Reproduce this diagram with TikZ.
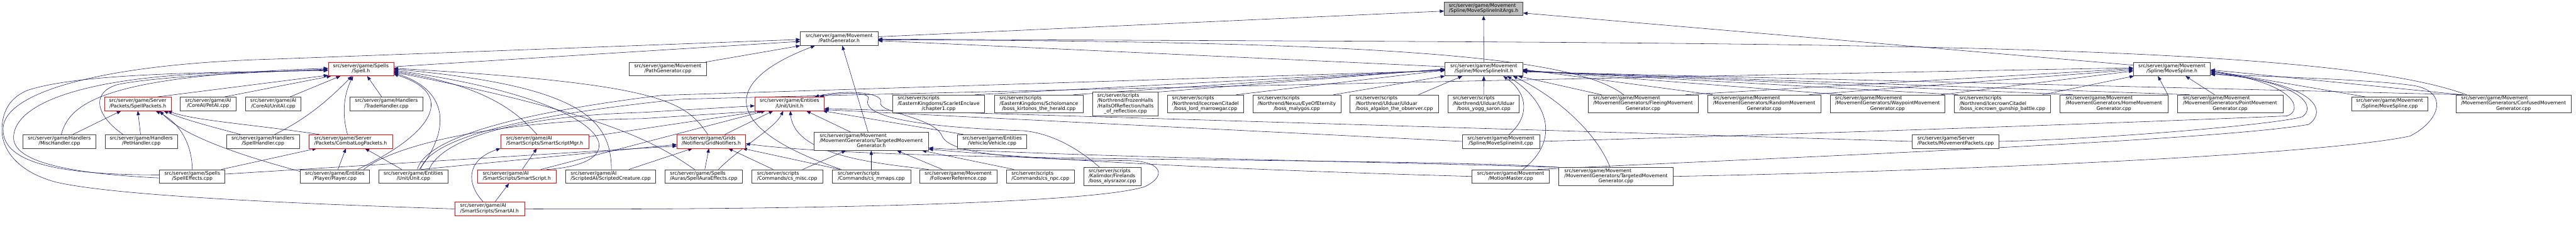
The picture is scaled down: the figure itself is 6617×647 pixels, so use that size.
\documentclass[tikz,border=0pt]{standalone}
\usepackage{fontspec}
\setmainfont{DejaVu Sans}
\usetikzlibrary{arrows.meta}
\definecolor{edgeblue}{RGB}{25,25,112}
\definecolor{boxgray}{RGB}{64,64,64}
\definecolor{hlred}{RGB}{255,0,0}
\definecolor{tgtgray}{RGB}{191,191,191}
\newcommand{\Ctwo}[2]{\begin{tabular}{@{}c@{}}#1\\#2\end{tabular}}
\newcommand{\Ltwo}[2]{\begin{tabular}{@{}l@{}}#1\\#2\end{tabular}}
\newcommand{\LLC}[3]{\begin{tabular}{@{}l@{}}#1\\#2\\\multicolumn{1}{@{}c@{}}{#3}\end{tabular}}
\newcommand{\LLLC}[4]{\begin{tabular}{@{}l@{}}#1\\#2\\#3\\\multicolumn{1}{@{}c@{}}{#4}\end{tabular}}
\pgfdeclarelayer{bg}
\pgfsetlayers{bg,main}
\begin{document}
\begin{tikzpicture}[x=1pt,y=-1pt,
  fn/.style={rectangle,draw=boxgray,line width=1pt,fill=white,inner sep=0pt,font=\fontsize{12.5pt}{12.6pt}\selectfont},
  hl/.style={fn,draw=hlred},
  tgt/.style={fn,fill=tgtgray},
  r2/.style={minimum height=35pt},
  r3/.style={minimum height=46pt},
  r4/.style={minimum height=60pt},
  wd/.style={minimum width=#1pt},
  inc/.style={draw=edgeblue,line width=0.9pt,-{Triangle[length=11pt,width=8.5pt]}}]
\useasboundingbox (0,0) rectangle (6617,647);
% ---------------- nodes ----------------
\node[tgt,r2,wd=202] (args) at (3811,22.5) {\Ltwo{src/server/game/Movement}{/Spline/MoveSplineInitArgs.h}};
\node[fn,r2,wd=199] (pathh) at (2155.5,99.5) {\Ctwo{src/server/game/Movement}{/PathGenerator.h}};
\node[hl,r2,wd=168] (spellh) at (927,177.5) {\Ctwo{src/server/game/Spells}{/Spell.h}};
\node[fn,r2,wd=199] (pathcpp) at (1715.5,177.5) {\Ctwo{src/server/game/Movement}{/PathGenerator.cpp}};
\node[fn,r2,wd=199] (msih) at (3811.5,177.5) {\Ctwo{src/server/game/Movement}{/Spline/MoveSplineInit.h}};
\node[fn,r2,wd=198] (msh) at (5579,177.5) {\Ctwo{src/server/game/Movement}{/Spline/MoveSpline.h}};
% row D
\node[hl,r2,wd=172] (spellpk) at (354,267) {\Ctwo{src/server/game/Server}{/Packets/SpellPackets.h}};
\node[fn,r2,wd=143] (petai) at (534.5,267) {\Ctwo{src/server/game/AI}{/CoreAI/PetAI.cpp}};
\node[fn,r2,wd=142] (unitai) at (702,267) {\Ctwo{src/server/game/AI}{/CoreAI/UnitAI.cpp}};
\node[fn,r2,wd=187] (trade) at (992.5,267) {\Ctwo{src/server/game/Handlers}{/TradeHandler.cpp}};
\node[hl,r2,wd=178] (unith) at (2028,267) {\Ctwo{src/server/game/Entities}{/Unit/Unit.h}};
\node[fn,r3,wd=236] (chapter1) at (2411,267) {\LLC{src/server/scripts}{/EasternKingdoms/ScarletEnclave}{/chapter1.cpp}};
\node[fn,r3,wd=229] (kirtonos) at (2668.5,267) {\LLC{src/server/scripts}{/EasternKingdoms/Scholomance}{/boss\_kirtonos\_the\_herald.cpp}};
\node[fn,r4,wd=168] (halls) at (2891,267) {\LLLC{src/server/scripts}{/Northrend/FrozenHalls}{/HallsOfReflection/halls}{\_of\_reflection.cpp}};
\node[fn,r3,wd=195] (marrowgar) at (3096.5,267) {\LLC{src/server/scripts}{/Northrend/IcecrownCitadel}{/boss\_lord\_marrowgar.cpp}};
\node[fn,r3,wd=226] (malygos) at (3331,267) {\LLC{src/server/scripts}{/Northrend/Nexus/EyeOfEternity}{/boss\_malygos.cpp}};
\node[fn,r3,wd=227] (algalon) at (3581.5,267) {\LLC{src/server/scripts}{/Northrend/Ulduar/Ulduar}{/boss\_algalon\_the\_observer.cpp}};
\node[fn,r3,wd=182] (yogg) at (3811,267) {\LLC{src/server/scripts}{/Northrend/Ulduar/Ulduar}{/boss\_yogg\_saron.cpp}};
\node[fn,r3,wd=283] (fleeing) at (4220.5,267) {\LLC{src/server/game/Movement}{/MovementGenerators/FleeingMovement}{Generator.cpp}};
\node[fn,r3,wd=291] (random) at (4531.5,267) {\LLC{src/server/game/Movement}{/MovementGenerators/RandomMovement}{Generator.cpp}};
\node[fn,r3,wd=295] (waypoint) at (4848.5,267) {\LLC{src/server/game/Movement}{/MovementGenerators/WaypointMovement}{Generator.cpp}};
\node[fn,r3,wd=247] (gunship) at (5143.5,267) {\LLC{src/server/scripts}{/Northrend/IcecrownCitadel}{/boss\_icecrown\_gunship\_battle.cpp}};
\node[fn,r3,wd=278] (home) at (5430,267) {\LLC{src/server/game/Movement}{/MovementGenerators/HomeMovement}{Generator.cpp}};
\node[fn,r3,wd=271] (point) at (5728.5,267) {\LLC{src/server/game/Movement}{/MovementGenerators/PointMovement}{Generator.cpp}};
\node[fn,r2,wd=196] (mscpp) at (6138,267) {\Ctwo{src/server/game/Movement}{/Spline/MoveSpline.cpp}};
\node[fn,r3,wd=295] (confused) at (6456.5,267) {\LLC{src/server/game/Movement}{/MovementGenerators/ConfusedMovement}{Generator.cpp}};
% row E
\node[fn,r2,wd=187] (mischand) at (152.5,363.5) {\Ctwo{src/server/game/Handlers}{/MiscHandler.cpp}};
\node[fn,r2,wd=186] (pethand) at (363,363.5) {\Ctwo{src/server/game/Handlers}{/PetHandler.cpp}};
\node[fn,r2,wd=187] (spellhand) at (675.5,363.5) {\Ctwo{src/server/game/Handlers}{/SpellHandler.cpp}};
\node[hl,r2,wd=215] (combatlog) at (900.5,363.5) {\Ltwo{src/server/game/Server}{/Packets/CombatLogPackets.h}};
\node[hl,r2,wd=226] (ssmgr) at (1399,363.5) {\Ltwo{src/server/game/AI}{/SmartScripts/SmartScriptMgr.h}};
\node[hl,r2,wd=176] (gridnot) at (1827,363.5) {\Ltwo{src/server/game/Grids}{/Notifiers/GridNotifiers.h}};
\node[fn,r3,wd=294] (tmgh) at (2238,363.5) {\LLC{src/server/game/Movement}{/MovementGenerators/TargetedMovement}{Generator.h}};
\node[fn,r2,wd=177] (vehicle) at (2548.5,363.5) {\Ctwo{src/server/game/Entities}{/Vehicle/Vehicle.cpp}};
\node[fn,r2,wd=199] (msicpp) at (3855.5,363.5) {\Ctwo{src/server/game/Movement}{/Spline/MoveSplineInit.cpp}};
\node[fn,r2,wd=223] (movpk) at (5023.5,363.5) {\Ltwo{src/server/game/Server}{/Packets/MovementPackets.cpp}};
% row F
\node[fn,r2,wd=168] (spelleff) at (494,453.5) {\Ctwo{src/server/game/Spells}{/SpellEffects.cpp}};
\node[fn,r2,wd=178] (playercpp) at (860,453.5) {\Ctwo{src/server/game/Entities}{/Player/Player.cpp}};
\node[fn,r2,wd=178] (unitcpp) at (1062,453.5) {\Ctwo{src/server/game/Entities}{/Unit/Unit.cpp}};
\node[hl,r2,wd=203] (ssh) at (1327.5,453.5) {\Ltwo{src/server/game/AI}{/SmartScripts/SmartScript.h}};
\node[fn,r2,wd=231] (scripted) at (1568.5,453.5) {\Ltwo{src/server/game/AI}{/ScriptedAI/ScriptedCreature.cpp}};
\node[fn,r2,wd=199] (auraeff) at (1807.5,453.5) {\Ltwo{src/server/game/Spells}{/Auras/SpellAuraEffects.cpp}};
\node[fn,r2,wd=182] (csmisc) at (2022,453.5) {\Ltwo{src/server/scripts}{/Commands/cs\_misc.cpp}};
\node[fn,r2,wd=202] (csmmaps) at (2238,453.5) {\Ltwo{src/server/scripts}{/Commands/cs\_mmaps.cpp}};
\node[fn,r2,wd=199] (follower) at (2461.5,453.5) {\Ctwo{src/server/game/Movement}{/FollowerReference.cpp}};
\node[fn,r2,wd=175] (csnpc) at (2672.5,453.5) {\Ltwo{src/server/scripts}{/Commands/cs\_npc.cpp}};
\node[fn,r3,wd=147] (alysrazor) at (2857.5,453.5) {\LLC{src/server/scripts}{/Kalimdor/Firelands}{/boss\_alysrazor.cpp}};
\node[fn,r2,wd=199] (motion) at (3880.5,453.5) {\Ctwo{src/server/game/Movement}{/MotionMaster.cpp}};
\node[fn,r3,wd=294] (tmgcpp) at (4151,453.5) {\LLC{src/server/game/Movement}{/MovementGenerators/TargetedMovement}{Generator.cpp}};
% row G
\node[hl,r2,wd=179] (smartai) at (1257.5,537) {\Ltwo{src/server/game/AI}{/SmartScripts/SmartAI.h}};
% ---------------- edges ----------------
\begin{pgfonlayer}{bg}
\fill[white] (0,0) rectangle (6617,647);
% MoveSplineInitArgs.h
\draw[inc] (msih.north) -- (args.south);
\draw[inc] ([yshift=5pt]pathh.east) -- ([yshift=-6pt]args.west);
\draw[inc] ([yshift=-8pt]msh.north west) -- ([yshift=-11pt]args.east);
% PathGenerator.h
\draw[inc] ([xshift=-3pt]pathcpp.north east) -- (pathh.south west);
\draw[inc] ([yshift=6pt]spellh.east) -- ([yshift=-7pt]pathh.west);
\draw[inc] ([yshift=4pt]spelleff.west) .. controls (120,450) and (5,410) .. (8,330) .. controls (10,240) and (250,165) .. (700,152) -- ([yshift=-2pt]pathh.west);
\draw[inc] ([xshift=-8pt]tmgh.north) -- ([xshift=8pt]pathh.south);
\draw[inc] ([xshift=-77pt]csmmaps.north) .. controls (1850,330) and (1850,210) .. ([xshift=-62pt]pathh.south);
\draw[inc] ([yshift=6pt]msih.west) -- ([yshift=-5pt]pathh.east);
\draw[inc] ([xshift=-50pt]fleeing.north) .. controls (4050,150) and (3600,105) .. ([yshift=-3pt]pathh.east);
\draw[inc] ([xshift=27pt]confused.north west) .. controls (5950,100) and (4500,112) .. ([yshift=-1pt]pathh.east);
% MoveSplineInit.h
\draw[inc] ([xshift=-25pt]chapter1.north east) -- ([yshift=-2pt]msih.west);
\draw[inc] ([xshift=-26pt]kirtonos.north east) -- ([yshift=-1pt]msih.west);
\draw[inc] (halls.north east) -- (msih.west);
\draw[inc] ([xshift=-19pt]marrowgar.north east) -- ([yshift=-3pt]msih.west);
\draw[inc] ([xshift=-19pt]malygos.north east) -- (msih.south west);
\draw[inc] ([xshift=10pt]unitcpp.north) .. controls (1090,370) and (1250,300) .. (1700,245) -- ([yshift=-4pt]msih.west);
\draw[inc] ([xshift=14pt]random.north west) -- ([yshift=-1pt]msih.east);
\draw[inc] ([xshift=31pt]waypoint.north west) -- ([yshift=-3pt]msih.east);
\draw[inc] ([xshift=10pt]gunship.north west) -- ([yshift=-4pt]msih.east);
\draw[inc] ([xshift=34pt]home.north west) -- ([yshift=-5pt]msih.east);
\draw[inc] ([xshift=32pt]point.north west) -- ([yshift=-6pt]msih.east);
\draw[inc] ([xshift=20pt]confused.north west) -- ([yshift=-7pt]msih.east);
\draw[inc] ([xshift=35pt]fleeing.north west) -- ([xshift=88pt]msih.south);
\draw[inc] ([xshift=-52pt]algalon.north east) -- ([xshift=-55pt]msih.south);
\draw[inc] (yogg.north) -- (msih.south);
\draw[inc] ([xshift=21pt]msicpp.north) .. controls (3930,300) and (3925,240) .. ([xshift=50pt]msih.south);
\draw[inc] ([xshift=31pt]motion.north) .. controls (4010,360) and (3975,260) .. ([xshift=60pt]msih.south);
\draw[inc] ([xshift=-15pt]tmgcpp.north) .. controls (4100,340) and (4000,250) .. ([xshift=75pt]msih.south);
% MoveSpline.h
\draw[inc] ([xshift=-21pt]gunship.north east) -- ([xshift=2pt]msh.south west);
\draw[inc] ([xshift=-31pt]random.north east) -- ([yshift=-2pt]msh.west);
\draw[inc] ([xshift=-10pt]waypoint.north east) -- ([yshift=-5pt]msh.west);
\draw[inc] ([xshift=-33pt]fleeing.north east) -- ([yshift=1pt]msh.west);
\draw[inc] ([xshift=18pt]unitcpp.north) .. controls (1100,370) and (1260,305) .. (1750,255) .. controls (2700,230) and (4600,190) .. ([yshift=3pt]msh.west);
\draw[inc] ([xshift=-1pt]home.north east) -- ([xshift=-36pt]msh.south);
\draw[inc] ([xshift=-40pt]point.north) -- ([xshift=35pt]msh.south);
\draw[inc] ([xshift=37pt]mscpp.north west) -- ([yshift=-4pt]msh.east);
\draw[inc] ([xshift=15pt]confused.north west) -- ([yshift=-2pt]msh.east);
\draw[inc] (msicpp.east) .. controls (4800,340) and (5600,310) .. (5875,298) .. controls (5915,285) and (5905,215) .. ([yshift=-6pt]msh.east);
\draw[inc] (movpk.east) .. controls (5400,358) and (5850,320) .. (5914,300) .. controls (5945,280) and (5935,215) .. ([yshift=-9pt]msh.east);
\draw[inc] ([xshift=-31pt]motion.north east) .. controls (4700,400) and (5700,360) .. (5930,320) .. controls (5975,290) and (5965,215) .. ([yshift=-12pt]msh.east);
\draw[inc] (tmgcpp.east) .. controls (5000,440) and (5950,400) .. (6190,350) .. controls (6270,310) and (6290,235) .. (6200,220) .. controls (6100,205) and (5800,195) .. ([yshift=-14pt]msh.east);
% Spell.h
\draw[inc] ([xshift=5pt]mischand.north) .. controls (180,260) and (280,195) .. ([yshift=2pt]spellh.west);
\draw[inc] ([xshift=-47pt]pethand.north) .. controls (250,300) and (230,240) .. (300,218) .. controls (400,195) and (700,185) .. (spellh.west);
\draw[inc] ([yshift=-4pt]spelleff.west) .. controls (150,445) and (30,410) .. (35,350) .. controls (40,270) and (200,200) .. (560,188) -- ([yshift=-2pt]spellh.west);
\draw[inc] (smartai.west) .. controls (800,525) and (300,505) .. (143,468) .. controls (40,440) and (3,380) .. (5,330) .. controls (7,270) and (40,245) .. (71,232) .. controls (200,190) and (500,186) .. ([yshift=-4pt]spellh.west);
\draw[inc] ([xshift=50pt]spellpk.north) -- ([yshift=2pt]spellh.south west);
\draw[inc] ([xshift=42pt]petai.north) -- ([xshift=8pt]spellh.south west);
\draw[inc] ([xshift=43pt]unitai.north) -- ([xshift=32pt]spellh.south west);
\draw[inc] ([xshift=30pt]spellhand.north) .. controls (800,300) and (860,240) .. ([xshift=-23pt]spellh.south);
\draw[inc] ([xshift=-8pt]combatlog.north) .. controls (880,300) and (880,250) .. ([xshift=-20pt]spellh.south);
\draw[inc] ([xshift=-12pt]trade.north) -- ([xshift=16pt]spellh.south);
\draw[inc] ([xshift=-31pt]playercpp.north east) .. controls (1120,340) and (1170,240) .. ([yshift=-13pt]spellh.east);
\draw[inc] ([xshift=15pt]unitcpp.north) .. controls (1160,330) and (1150,230) .. ([yshift=-10pt]spellh.east);
\draw[inc] ([xshift=-9pt]gridnot.north) .. controls (1760,260) and (1700,215) .. ([yshift=2pt]spellh.east);
\draw[inc] ([xshift=2pt]scripted.north) .. controls (1570,300) and (1480,220) .. (spellh.east);
\draw[inc] ([xshift=-25pt]ssh.north east) .. controls (1650,420) and (1580,260) .. ([yshift=-3pt]spellh.east);
\draw[inc] ([xshift=-20pt]ssmgr.north) .. controls (1330,290) and (1250,220) .. ([yshift=-6pt]spellh.east);
\draw[inc] ([xshift=-23pt]auraeff.north) .. controls (1700,380) and (1600,300) .. ([yshift=-8pt]spellh.east);
% SpellPackets.h
\draw[inc] ([xshift=35pt]mischand.north) -- ([xshift=-43pt]spellpk.south);
\draw[inc] ([xshift=-2pt]pethand.north) -- (spellpk.south);
\draw[inc] (spelleff.north) .. controls (493,380) and (470,320) .. ([xshift=46pt]spellpk.south);
\draw[inc] ([xshift=28pt]combatlog.north west) .. controls (650,320) and (500,310) .. ([xshift=-10pt]spellpk.south east);
\draw[inc] ([xshift=36pt]spellhand.north west) .. controls (560,330) and (480,310) .. ([xshift=-20pt]spellpk.south east);
\draw[inc] ([yshift=-5pt]playercpp.north west) .. controls (620,400) and (470,350) .. ([xshift=-30pt]spellpk.south east);
% CombatLogPackets.h
\draw[inc] ([xshift=-10pt]spelleff.north east) -- ([xshift=21pt]combatlog.south west);
\draw[inc] ([xshift=8pt]playercpp.north) -- ([xshift=-12pt]combatlog.south);
\draw[inc] ([xshift=-30pt]unitcpp.north) -- ([xshift=37pt]combatlog.south);
% SmartScript
\draw[inc] ([xshift=14pt]ssh.north) -- ([xshift=-20pt]ssmgr.south);
\draw[inc] ([xshift=-16pt]smartai.north) .. controls (1195,470) and (1200,410) .. (ssmgr.south west);
\draw[inc] ([xshift=14pt]smartai.north) -- ([xshift=-20pt]ssh.south);
% Unit.h
\draw[inc] ([yshift=12pt]ssmgr.east) -- ([xshift=-67pt]unith.south);
\draw[inc] ([xshift=-40pt]ssh.north east) -- ([xshift=-62pt]unith.south);
\draw[inc] ([xshift=40pt]unitcpp.north) .. controls (1130,370) and (1280,300) .. (1650,289) -- ([yshift=-5pt]unith.west);
\draw[inc] ([xshift=-15pt]playercpp.north east) .. controls (1000,380) and (1250,310) .. (1650,305) -- ([xshift=-72pt]unith.south);
\draw[inc] ([xshift=35pt]gridnot.north) -- ([xshift=-42pt]unith.south);
\draw[inc] ([xshift=38pt]auraeff.north) .. controls (1900,380) and (1990,330) .. ([xshift=-16pt]unith.south);
\draw[inc] ([xshift=24pt]follower.north west) .. controls (2250,420) and (2040,400) .. ([xshift=2pt]unith.south);
\draw[inc] ([xshift=-52pt]tmgh.north) -- ([xshift=43pt]unith.south);
\draw[inc] ([xshift=15pt]vehicle.north west) -- ([xshift=-4pt]unith.south east);
\draw[inc] (movpk.west) -- ([yshift=-12pt]unith.east);
\draw[inc] (msicpp.west) -- ([yshift=-15pt]unith.east);
\draw[inc] ([xshift=41pt]alysrazor.north west) .. controls (2790,400) and (2720,345) .. (2629,336) .. controls (2300,325) and (2215,290) .. (2230,255) .. controls (2240,235) and (2150,238) .. ([xshift=-12pt]unith.north east);
\draw[inc] (smartai.east) .. controls (2000,540) and (2800,525) .. (2940,480) .. controls (2995,455) and (2990,415) .. (2900,413) .. controls (2600,410) and (2440,395) .. (2420,350) .. controls (2400,300) and (2250,290) .. (2262,262) .. controls (2270,240) and (2180,228) .. ([xshift=-25pt]unith.north east);
% GridNotifiers.h
\draw[inc] ([xshift=20pt]unitcpp.north) -- ([yshift=-8pt]gridnot.west);
\draw[inc] ([yshift=6pt]spelleff.east) -- ([yshift=-12pt]gridnot.west);
\draw[inc] ([xshift=47pt]scripted.north) -- ([xshift=-48pt]gridnot.south);
\draw[inc] ([xshift=3pt]auraeff.north) -- ([xshift=-6pt]gridnot.south);
\draw[inc] ([xshift=-36pt]csmisc.north) -- ([xshift=44pt]gridnot.south);
\draw[inc] ([xshift=-81pt]csmmaps.north) -- ([xshift=-8pt]gridnot.south east);
\draw[inc] (tmgcpp.north west) .. controls (3600,404) and (2300,420) .. ([yshift=-6pt]gridnot.east);
% TargetedMovementGenerator.h
\draw[inc] (csmmaps.north) -- (tmgh.south);
\draw[inc] ([xshift=-41pt]follower.north) -- ([xshift=66pt]tmgh.south);
\draw[inc] ([xshift=-68pt]csnpc.north) -- ([xshift=-17pt]tmgh.south east);
\draw[inc] ([xshift=40pt]csmisc.north) -- ([xshift=-65pt]tmgh.south);
\draw[inc] (tmgcpp.north west) .. controls (3500,415) and (2800,404) .. ([yshift=-17pt]tmgh.east);
\draw[inc] (motion.west) .. controls (3300,440) and (2800,420) .. ([yshift=-20pt]tmgh.east);
\end{pgfonlayer}
\end{tikzpicture}
\end{document}
